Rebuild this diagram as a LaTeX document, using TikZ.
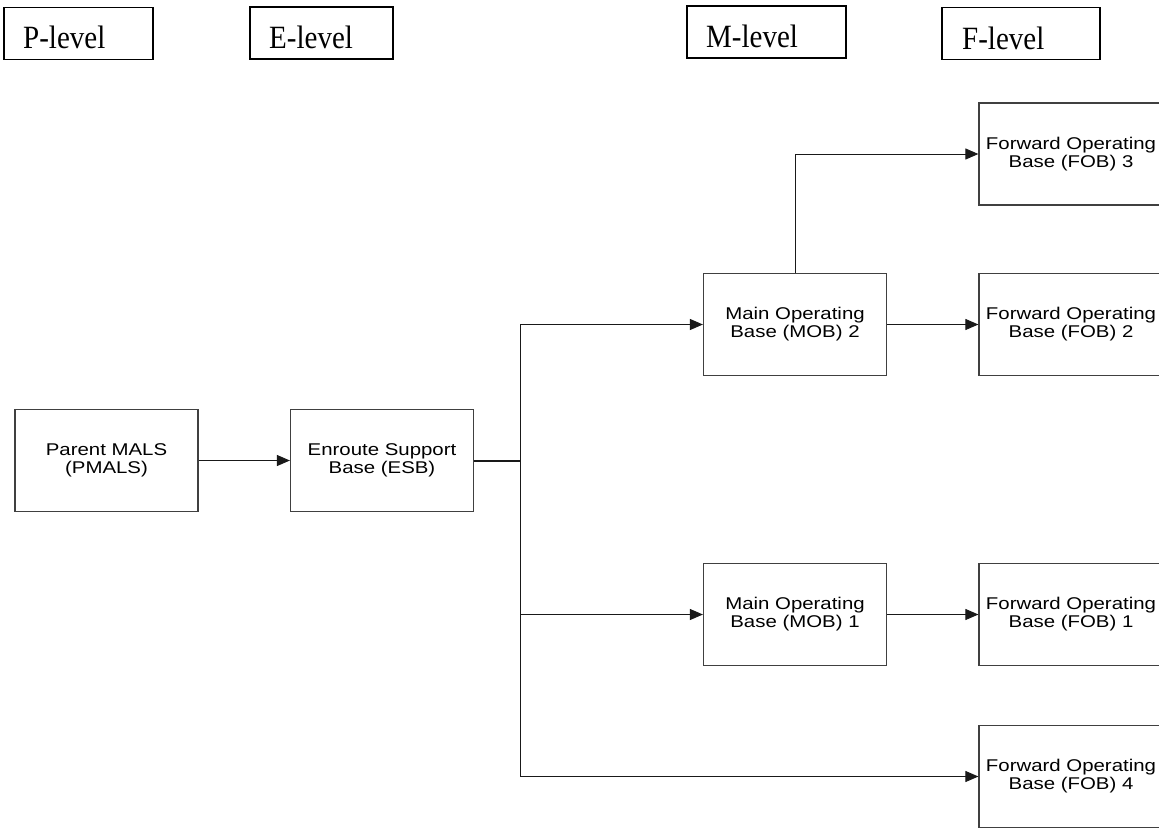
\documentclass[tikz,border=0pt]{standalone}
\usepackage{fontspec}
\usepackage{graphicx}
\setmainfont{Liberation Serif}
\setsansfont{Liberation Sans}
\usetikzlibrary{arrows.meta}
\newcommand{\hs}[1]{\scalebox{1.2}[1]{#1}}
\newcommand{\vs}[1]{\scalebox{1}[1.12]{#1}}
\begin{document}
\begin{tikzpicture}[x=1pt,y=-1pt,
  lvlbox/.style={draw=black, line width=1.8pt, inner sep=0pt, minimum height=52pt},
  lvltext/.style={anchor=base west, inner sep=0pt, font=\fontsize{29}{30}\selectfont},
  bx/.style={draw=black!75, line width=1.2pt, inner sep=0pt, minimum width=183pt, minimum height=102pt,
    align=center, font=\sffamily\fontsize{17}{18}\selectfont},
  conn/.style={line width=1pt, black!90},
  arr/.style={conn, -{Triangle[length=13pt,width=11pt]}}
]
\useasboundingbox (0,0) rectangle (1159,828);
% header boxes
\node[lvlbox, minimum width=149pt] (Pb) at (78.5,33.5) {};
\node[lvltext] (Pt) at (23,48) {\vs{P-level}};
\node[lvlbox, minimum width=143pt] (Eb) at (321.5,33) {};
\node[lvltext] (Et) at (269,48) {\vs{E-level}};
\node[lvlbox, minimum width=159pt] (Mb) at (766.5,32) {};
\node[lvltext] (Mt) at (706,47) {\vs{M-level}};
\node[lvlbox, minimum width=158pt] (Fb) at (1021,33.5) {};
\node[lvltext] (Ft) at (962,49) {\vs{F-level}};
% main boxes
\node[bx] (PM) at (106.5,460.5) {\hs{Parent MALS}\\\hs{(PMALS)}};
\node[bx] (ESB) at (382,460.5) {\hs{Enroute Support}\\\hs{Base (ESB)}};
\node[bx] (MOB2) at (795,324.5) {\hs{Main Operating}\\\hs{Base (MOB) 2}};
\node[bx] (MOB1) at (795,614.5) {\hs{Main Operating}\\\hs{Base (MOB) 1}};
\node[bx, minimum width=184pt] (FOB3) at (1071,154) {\hs{Forward Operating}\\\hs{Base (FOB) 3}};
\node[bx, minimum width=184pt] (FOB2) at (1071,324.5) {\hs{Forward Operating}\\\hs{Base (FOB) 2}};
\node[bx, minimum width=184pt] (FOB1) at (1071,614.5) {\hs{Forward Operating}\\\hs{Base (FOB) 1}};
\node[bx, minimum width=184pt] (FOB4) at (1071,776.5) {\hs{Forward Operating}\\\hs{Base (FOB) 4}};
% connectors
\coordinate (J) at (520,460.5);
\draw[arr] (PM.east) -- (ESB.west);
\draw[line width=2pt, black!90] (ESB.east) -- (J);
\draw[arr] (J) |- (MOB2.west);
\draw[arr] (J) |- (MOB1.west);
\draw[arr] (J) |- (FOB4.west);
\draw[arr] (MOB2.east) -- (FOB2.west);
\draw[arr] (MOB1.east) -- (FOB1.west);
\draw[arr] (MOB2.north) |- (FOB3.west);
\end{tikzpicture}
\end{document}
